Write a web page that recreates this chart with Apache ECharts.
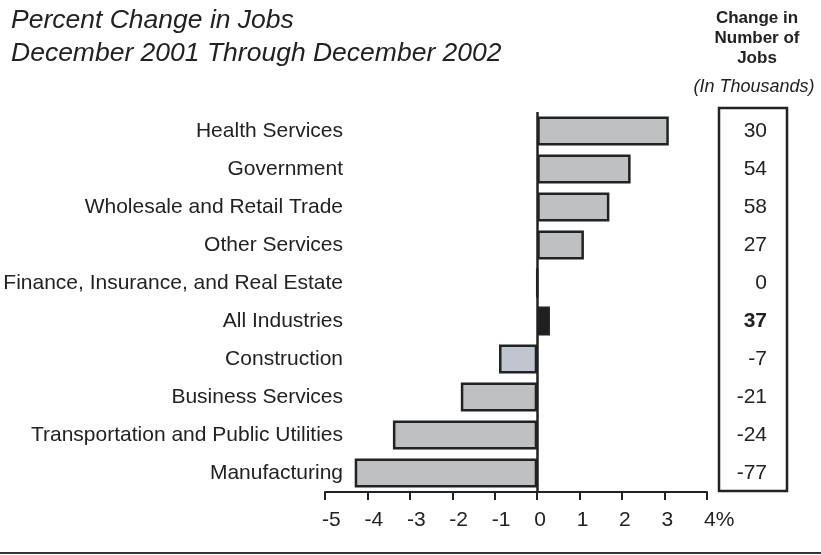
<!DOCTYPE html>
<html>
<head>
<meta charset="utf-8">
<style>
  html, body { margin: 0; padding: 0; background: #fff; }
  #chart { width: 821px; height: 555px; }
</style>
<script src="https://cdn.jsdelivr.net/npm/echarts@6/dist/echarts.min.js"></script>
</head>
<body>
<div id="chart"></div>
<script>
// Industries, listed top to bottom
const industries = [
  'Health Services',
  'Government',
  'Wholesale and Retail Trade',
  'Other Services',
  'Finance, Insurance, and Real Estate',
  'All Industries',
  'Construction',
  'Business Services',
  'Transportation and Public Utilities',
  'Manufacturing'
];
// Percent change in jobs, Dec 2001 - Dec 2002
const percentChange = [3.1, 2.2, 1.7, 1.1, 0, 0.3, -0.9, -1.8, -3.4, -4.3];
// Change in number of jobs (thousands)
const jobChange = [30, 54, 58, 27, 0, 37, -7, -21, -24, -77];
// Bar fill per industry
const barColors = ['#bfc0c2', '#bfc0c2', '#bfc0c2', '#bfc0c2', '#bfc0c2',
                   '#1f1f1f', '#c1c5cd', '#bfc0c2', '#bfc0c2', '#bfc0c2'];
const totalLabel = 'All Industries';

const ink = '#222';
const font = '"Liberation Sans", Arial, Helvetica, sans-serif';
const totalIdx = industries.indexOf(totalLabel);

const chart = echarts.init(document.getElementById('chart'), null, { renderer: 'canvas' });

chart.setOption({
  animation: false,
  backgroundColor: '#fff',
  textStyle: { fontFamily: font, color: ink },
  title: {
    text: 'Percent Change in Jobs\nDecember 2001 Through December 2002',
    left: 6,
    top: -1,
    textStyle: {
      fontFamily: font, fontStyle: 'italic', fontWeight: 'normal',
      fontSize: 26.5, lineHeight: 33, color: ink
    }
  },
  grid: { left: 325, right: 114, top: 112, bottom: 63 },
  xAxis: {
    type: 'value',
    min: -5,
    max: 4,
    interval: 1,
    splitLine: { show: false },
    axisLine: { show: true, onZero: false, lineStyle: { color: ink, width: 2 } },
    axisTick: { show: true, length: 8, lineStyle: { color: ink, width: 2 } },
    axisLabel: {
      margin: 18, fontSize: 21, color: ink, fontFamily: font,
      align: 'left', padding: [0, 0, 0, -3],
      formatter: v => (v === 4 ? '4%' : String(v))
    }
  },
  yAxis: [
    {
      type: 'category',
      data: industries,
      inverse: true,
      position: 'left',
      offset: -26,
      axisLine: { show: false },
      axisTick: { show: false },
      axisLabel: { margin: 8, fontSize: 21, color: ink, fontFamily: font }
    },
    {
      type: 'category',
      data: jobChange.map(String),
      inverse: true,
      position: 'right',
      axisLine: { show: false },
      axisTick: { show: false },
      axisLabel: {
        margin: 60, align: 'right', fontSize: 21, color: ink, fontFamily: font,
        formatter: (v, i) => (i === totalIdx ? '{b|' + v + '}' : v),
        rich: { b: { fontWeight: 'bold', fontSize: 21, color: ink, fontFamily: font } }
      }
    }
  ],
  series: [
    {
      type: 'bar',
      yAxisIndex: 0,
      barWidth: 29,
      z: 2,
      data: percentChange.map((v, i) => ({
        value: v,
        itemStyle: { color: barColors[i] }
      })),
      itemStyle: { borderColor: ink, borderWidth: 2.5 },
      markLine: {
        silent: true,
        symbol: 'none',
        z: 5,
        label: { show: false },
        lineStyle: { color: ink, width: 2.5, type: 'solid' },
        data: [{ xAxis: 0 }]
      }
    }
  ],
  graphic: [
    // Box around the job-count column
    {
      type: 'rect',
      shape: { x: 719, y: 108, width: 68, height: 383 },
      style: { fill: 'none', stroke: ink, lineWidth: 2.5 },
      silent: true
    },
    // Column heading
    {
      type: 'text',
      x: 757, y: 8,
      style: {
        text: 'Change in\nNumber of\nJobs',
        font: 'bold 17px ' + font,
        lineHeight: 20,
        fill: ink,
        align: 'center',
        verticalAlign: 'top'
      }
    },
    {
      type: 'text',
      x: 754, y: 78,
      style: {
        text: '(In Thousands)',
        font: 'italic 18px ' + font,
        fill: ink,
        align: 'center',
        verticalAlign: 'top'
      }
    },
    // Rule along the bottom
    {
      type: 'line',
      shape: { x1: 0, y1: 553, x2: 821, y2: 553 },
      style: { stroke: '#333', lineWidth: 2 },
      silent: true
    }
  ]
});
</script>
</body>
</html>
